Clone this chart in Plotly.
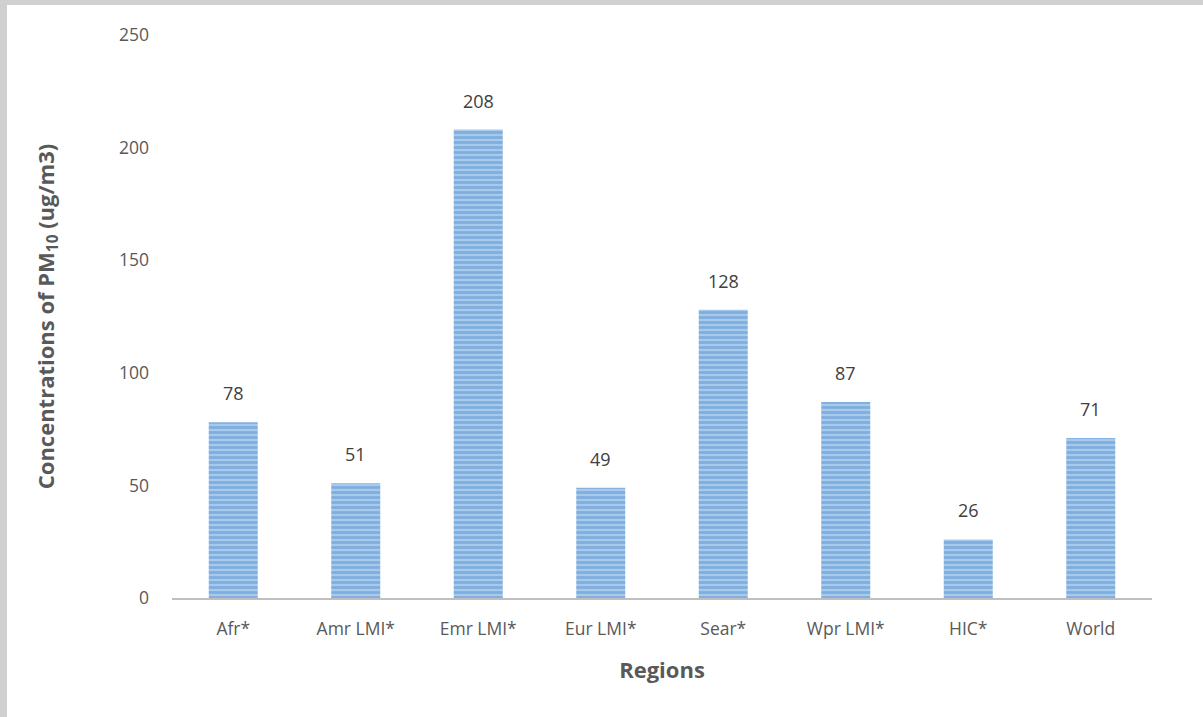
import plotly.graph_objects as go

regions = ["Afr*", "Amr LMI*", "Emr LMI*", "Eur LMI*", "Sear*", "Wpr LMI*", "HIC*", "World"]
pm10 = [78, 51, 208, 49, 128, 87, 26, 71]
y_ticks = [0, 50, 100, 150, 200, 250]

W, H = 1203, 717
L, R, T, B = 172, 51, 35, 119
pw, ph = W - L - R, H - T - B


def px_to_paper_x(px):
    return (px - L) / pw


def px_to_paper_y(py):
    return (H - B - py) / ph


font = "Open Sans, sans-serif"

fig = go.Figure(
    go.Bar(
        x=regions,
        y=pm10,
        width=0.4,
        marker=dict(
            color="#A7CAEC",
            line=dict(width=0),
            pattern=dict(shape="-", fgcolor="#5591CF", size=5, solidity=0.55),
        ),
        cliponaxis=False,
    )
)

# value labels above each bar
for name, v in zip(regions, pm10):
    fig.add_annotation(
        x=name, y=v, text=str(v), showarrow=False,
        yanchor="bottom", yshift=15,
        font=dict(family=font, size=18, color="#404040"),
    )

fig.update_layout(
    width=W,
    height=H,
    margin=dict(l=L, r=R, t=T, b=B),
    paper_bgcolor="white",
    plot_bgcolor="white",
    showlegend=False,
    font=dict(family=font, size=18, color="#595959"),
    xaxis=dict(
        showline=True,
        linecolor="#BFBFBF",
        linewidth=2,
        showgrid=False,
        ticks="",
        ticklabelstandoff=14,
        tickfont=dict(size=17.5, color="#595959"),
        title=dict(text="<b>Regions</b>", font=dict(size=22, color="#595959"), standoff=24),
    ),
    yaxis=dict(
        range=[0, 250],
        tickvals=y_ticks,
        showgrid=False,
        zeroline=False,
        showline=False,
        ticks="",
        ticklabelstandoff=22,
        tickfont=dict(size=17.5, color="#595959"),
        title=dict(
            text="<b>Concentrations of PM<sub>10</sub> (ug/m3)</b>",
            font=dict(size=22, color="#595959"),
            standoff=58,
        ),
    ),
    shapes=[
        dict(type="rect", xref="paper", yref="paper",
             x0=px_to_paper_x(0), x1=px_to_paper_x(7),
             y0=px_to_paper_y(H), y1=px_to_paper_y(0),
             fillcolor="#D0D0D0", line=dict(width=0), layer="below"),
        dict(type="rect", xref="paper", yref="paper",
             x0=px_to_paper_x(0), x1=px_to_paper_x(W),
             y0=px_to_paper_y(5), y1=px_to_paper_y(0),
             fillcolor="#D0D0D0", line=dict(width=0), layer="below"),
    ],
)

fig.write_html("out.html")
